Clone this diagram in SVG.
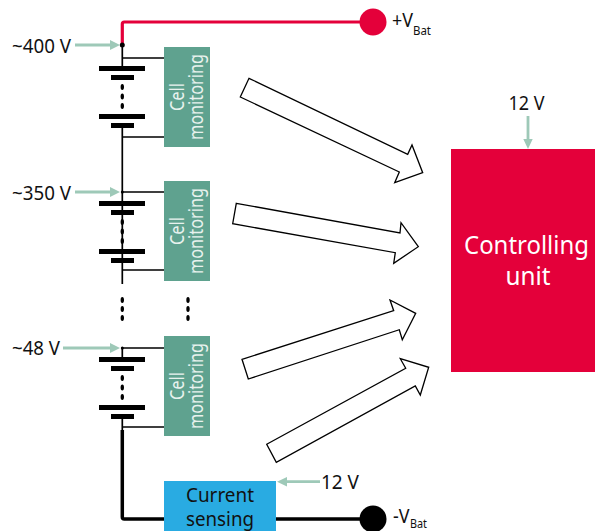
<svg xmlns="http://www.w3.org/2000/svg" width="595" height="531" viewBox="0 0 595 531">
<style>
text{font-family:"Noto Sans","Open Sans",sans-serif;fill:#111}
.v{font-size:20px}
.sub{font-size:12px}
.w{fill:#e8f2ee;font-size:19.500px;text-anchor:middle}
.d{fill:#111;font-size:20px;text-anchor:middle}
.cell{fill:#5fa28f}
.thin{fill:none;stroke:#000;stroke-width:1.7}
.big{fill:#fff;stroke:#000;stroke-width:1.3;stroke-linejoin:miter}
.pale{fill:none;stroke:#9ec9b8;stroke-width:2.800}
.paleh{fill:#9ec9b8}
.bar{fill:#000}
.dot{fill:#000}
</style>
<defs>
<g id="bat">
<rect class="bar" x="99" y="0" width="46" height="5"/>
<rect class="bar" x="111" y="9" width="23" height="5"/>
<ellipse class="dot" cx="122.300" cy="21" rx="1.700" ry="3"/>
<ellipse class="dot" cx="122.300" cy="30.500" rx="1.700" ry="3"/>
<ellipse class="dot" cx="122.300" cy="40" rx="1.700" ry="3"/>
<rect class="bar" x="99" y="48" width="46" height="5"/>
<rect class="bar" x="111" y="57" width="23" height="5"/>
</g>
</defs>
<g id="connectors">
<path d="M122.300 45V24Q122.300 22 124.300 22H373" fill="none" stroke="#e4003a" stroke-width="3.200"/>
<path class="thin" d="M122.300 45V66M122.300 128V284M122.300 58H164M122.300 137H164M122.300 192H164M122.300 270H164M122.300 348V357M122.300 348H164M122.300 418V430M122.300 427H164"/>
<path d="M122.300 430V517Q122.300 519 124.300 519H373" fill="none" stroke="#000" stroke-width="3.500"/>
<circle class="dot" cx="122.300" cy="45" r="2.500"/>
<circle class="dot" cx="122.300" cy="192" r="1.500"/>
<circle class="dot" cx="122.300" cy="348" r="1.500"/>
<path class="pale" d="M75 45H111M75 192H111M63 348H111M528 116V140M320 481.700H286"/>
<path class="paleh" d="M120 45L110 40V50ZM120 192L110 187V197ZM120 348L110 343V353ZM528 149L523.300 139H532.700ZM277 481.700L287 477V486.500Z"/>
</g>
<g id="batteries">
<use href="#bat" y="66"/>
<use href="#bat" y="201"/>
<use href="#bat" y="357"/>
<g class="dot">
<ellipse cx="122.300" cy="300" rx="1.700" ry="3"/><ellipse cx="122.300" cy="309" rx="1.700" ry="3"/><ellipse cx="122.300" cy="318" rx="1.700" ry="3"/>
<ellipse cx="188" cy="300" rx="1.700" ry="3"/><ellipse cx="188" cy="309" rx="1.700" ry="3"/><ellipse cx="188" cy="318" rx="1.700" ry="3"/>
</g>
</g>
<g id="cell1"><rect class="cell" x="164" y="47" width="46" height="100"/>
<text class="w" transform="translate(183.500 97) rotate(-90)" textLength="28" lengthAdjust="spacingAndGlyphs">Cell</text><text class="w" transform="translate(202.500 97) rotate(-90)" textLength="86" lengthAdjust="spacingAndGlyphs">monitoring</text></g>
<g id="cell2"><rect class="cell" x="164" y="181" width="46" height="100"/>
<text class="w" transform="translate(183.500 231) rotate(-90)" textLength="28" lengthAdjust="spacingAndGlyphs">Cell</text><text class="w" transform="translate(202.500 231) rotate(-90)" textLength="86" lengthAdjust="spacingAndGlyphs">monitoring</text></g>
<g id="cell3"><rect class="cell" x="164" y="336" width="46" height="100"/>
<text class="w" transform="translate(183.500 386) rotate(-90)" textLength="28" lengthAdjust="spacingAndGlyphs">Cell</text><text class="w" transform="translate(202.500 386) rotate(-90)" textLength="86" lengthAdjust="spacingAndGlyphs">monitoring</text></g>
<g id="sensing"><rect x="164" y="481" width="112" height="50" fill="#29abe2"/>
<text class="d" x="220" y="502" textLength="68" lengthAdjust="spacingAndGlyphs">Current</text><text class="d" x="220" y="525.500" textLength="68" lengthAdjust="spacingAndGlyphs">sensing</text></g>
<g id="control"><rect x="451" y="149" width="144" height="223" fill="#e4003a"/>
<text x="526.500" y="254" font-size="26" text-anchor="middle" style="fill:#fff" textLength="125" lengthAdjust="spacingAndGlyphs">Controlling</text>
<text x="528" y="285" font-size="26" text-anchor="middle" style="fill:#fff" textLength="45" lengthAdjust="spacingAndGlyphs">unit</text></g>
<g id="arrows">
<polygon class="big" points="249,78.300 407.700,154.300 412,145 422.700,172.700 394.700,182.700 399.300,172 240.300,97"/>
<polygon class="big" points="236.300,203.300 400,233 401,222.700 418.300,246.700 393.700,263.300 395.300,252.700 232.700,223.700"/>
<polygon class="big" points="242,359.300 393.700,310.700 390,300 415.700,313.300 402.300,339.700 399.300,329.700 248.300,379"/>
<polygon class="big" points="266.700,444.300 405.700,368.300 400.300,358.700 428.700,367.300 420.300,395 415.300,386 276.300,462.300"/>
</g>
<g id="pos"><circle cx="373" cy="22" r="13.500" fill="#e4003a"/><text class="v" x="392" y="27" textLength="21" lengthAdjust="spacingAndGlyphs">+V</text><text class="sub" x="413" y="35" textLength="18" lengthAdjust="spacingAndGlyphs">Bat</text></g>
<g id="neg"><circle cx="373" cy="519" r="13.500" fill="#000"/><text class="v" x="393" y="523" textLength="16.500" lengthAdjust="spacingAndGlyphs">-V</text><text class="sub" x="410" y="527.500" textLength="17" lengthAdjust="spacingAndGlyphs">Bat</text></g>
<g id="labels">
<text class="v" x="12" y="53" textLength="59" lengthAdjust="spacingAndGlyphs">~400 V</text>
<text class="v" x="12" y="200" textLength="59" lengthAdjust="spacingAndGlyphs">~350 V</text>
<text class="v" x="12" y="355" textLength="48" lengthAdjust="spacingAndGlyphs">~48 V</text>
<text class="v" x="508.500" y="110" textLength="36" lengthAdjust="spacingAndGlyphs">12 V</text>
<text class="v" x="321" y="489" textLength="38" lengthAdjust="spacingAndGlyphs">12 V</text>
</g>
</svg>
